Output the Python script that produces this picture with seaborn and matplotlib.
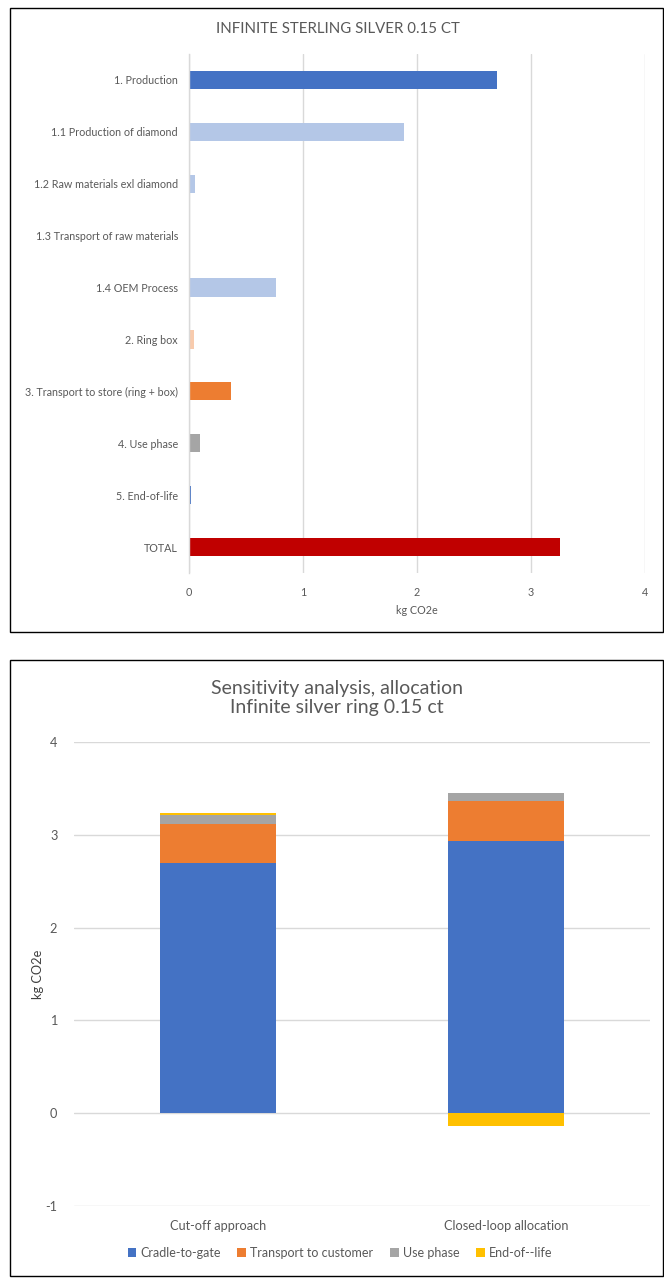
import matplotlib
matplotlib.use("Agg")
import matplotlib.pyplot as plt
from matplotlib.patches import Rectangle
import seaborn as sns
import pandas as pd
import numpy as np

sns.set_theme(style="white")
plt.rcParams["font.family"] = ["Lato", "DejaVu Sans"]
plt.rcParams["axes.unicode_minus"] = False

# ---- Data: contribution breakdown ----
stages = ["1. Production", "1.1 Production of diamond", "1.2 Raw materials exl diamond",
          "1.3 Transport of raw materials", "1.4 OEM Process", "2. Ring box",
          "3. Transport to store (ring + box)", "4. Use phase", "5. End-of-life", "TOTAL"]
stage_values = [2.70, 1.89, 0.05, 0.005, 0.76, 0.04, 0.37, 0.10, 0.015, 3.25]
stage_colors = ["#4472C4", "#B4C7E7", "#B4C7E7", "#B4C7E7", "#B4C7E7", "#F8CBAD",
                "#ED7D31", "#A5A5A5", "#4472C4", "#C00000"]

# ---- Data: allocation sensitivity ----
approaches = ["Cut-off approach", "Closed-loop allocation"]
cradle_to_gate = [2.70, 2.93]
transport_to_customer = [0.42, 0.43]
use_phase = [0.09, 0.09]
end_of_life = [0.026, -0.14]
series_names = ["Cradle-to-gate", "Transport to customer", "Use phase", "End-of--life"]
series_colors = ["#4472C4", "#ED7D31", "#A5A5A5", "#FFC000"]

W, H = 664, 1278
fig = plt.figure(figsize=(W / 100, H / 100), dpi=100)
TXT = "#595959"
GRID = "#D9D9D9"


def fx(px):
    return px / W


def fy(py):
    return 1 - py / H


# panel frames
for (x0, y0, x1, y1) in [(10, 8, 663, 632), (10, 660, 663, 1276)]:
    fig.patches.append(Rectangle((fx(x0), fy(y1)), fx(x1 - x0), (y1 - y0) / H,
                                 transform=fig.transFigure, fill=False,
                                 edgecolor="#000000", linewidth=1.0))

# ---- Top chart: horizontal bars ----
ax1 = fig.add_axes([fx(189), fy(573), fx(645 - 189), (573 - 54) / H])
df1 = pd.DataFrame({"stage": stages, "value": stage_values})
sns.barplot(data=df1, y="stage", x="value", hue="stage", palette=stage_colors,
            order=stages, hue_order=stages, legend=False, width=0.35,
            saturation=1, linewidth=0, orient="h", ax=ax1)
ax1.set_xlim(0, 4)
ax1.set_xticks([0, 1, 2, 3, 4])
ax1.grid(axis="x", color=GRID, linewidth=1)
ax1.set_axisbelow(True)
for s in ["top", "right", "bottom"]:
    ax1.spines[s].set_visible(False)
ax1.spines["left"].set_color(GRID)
ax1.spines["left"].set_linewidth(1)
ax1.tick_params(axis="y", length=0, pad=8, labelsize=7.75, labelcolor=TXT)
ax1.tick_params(axis="x", length=0, pad=10, labelsize=7.75, labelcolor=TXT)
ax1.set_ylabel("")
ax1.set_xlabel("kg CO2e", fontsize=7.75, color=TXT, labelpad=5)
fig.text(fx(338), fy(29), "INFINITE STERLING SILVER 0.15 CT", ha="center",
         va="center", fontsize=10.8, color=TXT)

# ---- Bottom chart: stacked columns ----
ax2 = fig.add_axes([fx(74), fy(1206), fx(650 - 74), (1206 - 742) / H])
layers = [cradle_to_gate, transport_to_customer, use_phase, end_of_life]
tops = []
running = np.zeros(len(approaches))
for vals in layers:
    vals = np.asarray(vals, dtype=float)
    pos = np.where(vals > 0, running + vals, vals)
    running = running + np.clip(vals, 0, None)
    tops.append(pos)

# draw from the outermost segment inward so lower segments overlay
for name, color, top in reversed(list(zip(series_names, series_colors, tops))):
    d = pd.DataFrame({"approach": approaches, "value": top})
    sns.barplot(data=d, x="approach", y="value", color=color, width=0.4,
                saturation=1, linewidth=0, order=approaches, ax=ax2,
                zorder=3, label=name)
if ax2.get_legend() is not None:
    ax2.get_legend().remove()

ax2.set_ylim(-1, 4)
ax2.set_yticks([-1, 0, 1, 2, 3, 4])
ax2.set_xlim(-0.5, 1.5)
ax2.grid(axis="y", color=GRID, linewidth=1)
ax2.set_axisbelow(True)
for s in ax2.spines.values():
    s.set_visible(False)
ax2.tick_params(axis="y", length=0, pad=12, labelsize=9.2, labelcolor=TXT)
ax2.tick_params(axis="x", length=0, pad=10, labelsize=9.2, labelcolor=TXT)
ax2.set_xlabel("")
ax2.set_ylabel("kg CO2e", fontsize=9.2, color="#404040", labelpad=1)
fig.text(fx(337), fy(698), "Sensitivity analysis, allocation\nInfinite silver ring 0.15 ct",
         ha="center", va="center", fontsize=14, color=TXT, linespacing=1.15)

handles, labels = ax2.get_legend_handles_labels()
order = [labels.index(n) for n in series_names]
leg = fig.legend([handles[i] for i in order], [labels[i] for i in order],
                 loc="center", bbox_to_anchor=(fx(340), fy(1253)), ncol=4,
                 frameon=False, fontsize=9.0, handlelength=0.7, handleheight=0.7,
                 handletextpad=0.35, columnspacing=1.3)
for t in leg.get_texts():
    t.set_color(TXT)

fig.savefig("out.png", dpi=100)
